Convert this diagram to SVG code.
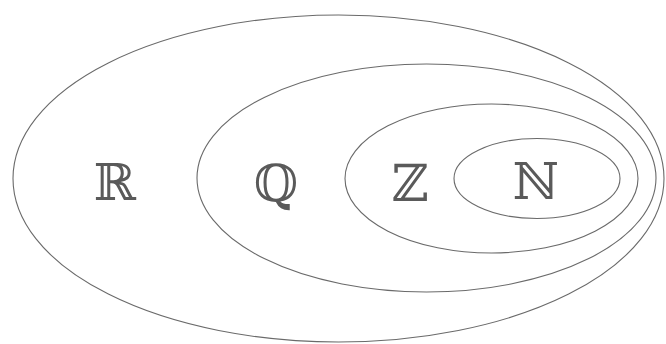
<svg xmlns="http://www.w3.org/2000/svg" width="666" height="344" viewBox="0 0 666 344">
<style>
.set{fill:none;stroke:#6a6a6a;stroke-width:1.1}
.lbl{font-family:"DejaVu Serif","Liberation Serif",serif;font-size:51px;fill:#5a5a5a;text-anchor:middle}
</style>
<rect width="666" height="344" fill="#fff"/>
<g id="R">
<ellipse class="set" cx="338.5" cy="178.5" rx="325.5" ry="163.5"/>
<text class="lbl" x="115" y="200">ℝ</text>
</g>
<g id="Q">
<ellipse class="set" cx="426.5" cy="178" rx="229.5" ry="114"/>
<text class="lbl" x="276" y="201">ℚ</text>
</g>
<g id="Z">
<ellipse class="set" cx="491.5" cy="178.5" rx="146.5" ry="74.5"/>
<text class="lbl" x="410" y="201">ℤ</text>
</g>
<g id="N">
<ellipse class="set" cx="537" cy="178.5" rx="83" ry="40"/>
<text class="lbl" x="536" y="199">ℕ</text>
</g>
</svg>
